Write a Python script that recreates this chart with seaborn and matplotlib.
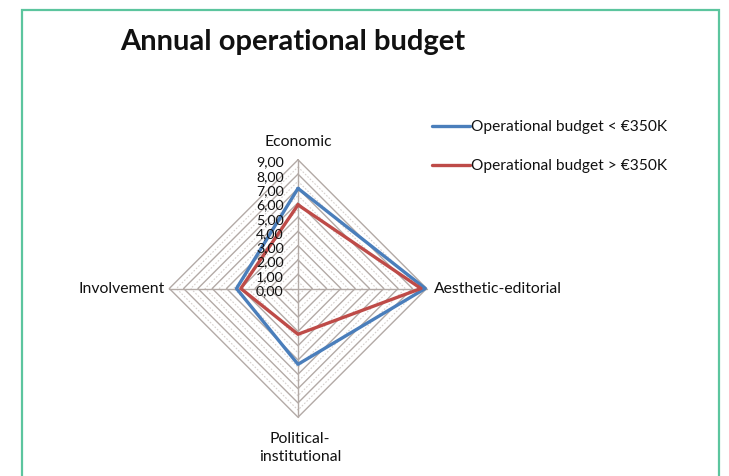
import numpy as np
import pandas as pd
import matplotlib
matplotlib.use("Agg")
import matplotlib.pyplot as plt
from matplotlib.patches import Rectangle
import seaborn as sns

# Radar axes, clockwise from the top
categories = ["Economic", "Aesthetic-editorial", "Political-\ninstitutional", "Involvement"]
angles_deg = [90, 0, 270, 180]
series_names = ["Operational budget < €350K", "Operational budget > €350K"]
below_350k = [7.0, 8.9, 5.3, 4.3]
above_350k = [5.85, 8.6, 3.2, 4.0]
tick_values = [0, 1, 2, 3, 4, 5, 6, 7, 8, 9]
tick_labels = ["0,00", "1,00", "2,00", "3,00", "4,00", "5,00", "6,00", "7,00", "8,00", "9,00"]
colors = ["#4a7ebb", "#be4b48"]

sns.set_theme(style="white")
plt.rcParams["font.family"] = ["Lato", "DejaVu Sans"]

fig = plt.figure(figsize=(7.29, 4.77), dpi=100)
fig.patch.set_facecolor("white")
ax = fig.add_axes([155 / 729, 44.5 / 477, 286 / 729, 286 / 477])
ax.set_xlim(-10, 10)
ax.set_ylim(-10, 10)
ax.axis("off")

theta = np.deg2rad(angles_deg)
cos_t, sin_t = np.cos(theta), np.sin(theta)

# Polygon grid: minor dotted rings at half units, major solid rings at each unit
grid_col = "#b3aaa6"
for r in np.arange(0.5, 9, 1.0):
    ax.plot(np.append(r * cos_t, r * cos_t[0]), np.append(r * sin_t, r * sin_t[0]),
            color="#d6d0cd", lw=0.8, ls=(0, (1.5, 1.5)), zorder=1)
for r in tick_values[1:]:
    ax.plot(np.append(r * cos_t, r * cos_t[0]), np.append(r * sin_t, r * sin_t[0]),
            color=grid_col, lw=1.0, zorder=2)
for c, s in zip(cos_t, sin_t):
    ax.plot([0, 9 * c], [0, 9 * s], color=grid_col, lw=1.0, zorder=2)

# Data polygons
rows = []
for name, vals in zip(series_names, [below_350k, above_350k]):
    v = np.array(vals)
    xs = np.append(v * cos_t, v[0] * cos_t[0])
    ys = np.append(v * sin_t, v[0] * sin_t[0])
    for i, (x, y) in enumerate(zip(xs, ys)):
        rows.append({"series": name, "order": i, "x": x, "y": y})
df = pd.DataFrame(rows)
sns.lineplot(data=df, x="x", y="y", hue="series", units="series", estimator=None,
             sort=False, palette=colors, lw=2.4, ax=ax, legend=False, zorder=5)

# Radial tick labels along the top spoke
for v, lab in zip(tick_values, tick_labels):
    ax.text(-1.0, v - 0.12, lab, ha="right", va="center", fontsize=10.2, color="#111111", zorder=6)

# Category labels
lab_kw = dict(fontsize=11.3, color="#111111")
ax.text(0, 10.3, categories[0], ha="center", va="center", **lab_kw)
ax.text(9.5, 0, categories[1], ha="left", va="center", **lab_kw)
ax.text(0.15, -11.1, categories[2], ha="center", va="center", linespacing=1.35, **lab_kw)
ax.text(-9.3, 0, categories[3], ha="right", va="center", **lab_kw)

# Legend
for k, (name, col) in enumerate(zip(series_names, colors)):
    y = 1 - (127 + 39 * k) / 477
    fig.add_artist(plt.Line2D([432 / 729, 470 / 729], [y, y], color=col, lw=2.4))
    fig.text(471 / 729, y, name, ha="left", va="center", fontsize=11.2, color="#111111")

# Title
fig.text(120 / 729, 1 - 42 / 477, "Annual operational budget", ha="left", va="center",
         fontsize=21, fontweight="bold", color="#111111")

# Frame
fig.add_artist(Rectangle((22 / 729, -0.05), (719 - 22) / 729, (466 + 24) / 477,
                         transform=fig.transFigure, fill=False, edgecolor="#5cc59e", lw=1.6))

fig.savefig("out.png", dpi=100)
